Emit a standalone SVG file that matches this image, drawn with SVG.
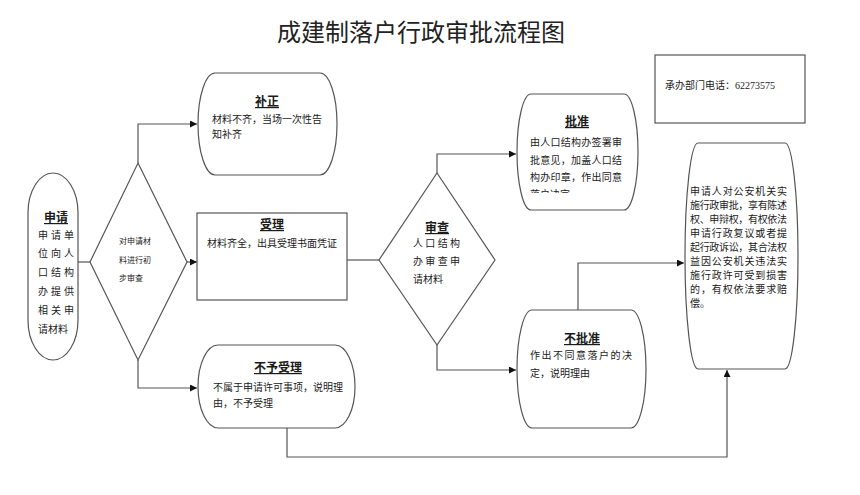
<svg xmlns="http://www.w3.org/2000/svg" width="860" height="495" viewBox="0 0 860 495">
<style>
.sh{fill:#fff;stroke:#555;stroke-width:1.2}
.cn{fill:none;stroke:#555;stroke-width:1.2}
text{font-family:"Noto Sans CJK SC","Liberation Sans",sans-serif;fill:#1a1a1a}
.t{font-size:10px}
.s{font-size:8px}
.h{font-size:12px;font-weight:bold;text-anchor:middle;text-decoration:underline}
.title{font-size:24px;text-anchor:middle;fill:#222}
</style>
<defs>
<marker id="ar" viewBox="0 0 8 8" refX="8" refY="4" markerWidth="7" markerHeight="7" markerUnits="userSpaceOnUse" orient="auto">
<path d="M0,0 L8,4 L0,8 Z" fill="#111"/>
</marker>
<clipPath id="clipPz"><rect x="520" y="100" width="120" height="93"/></clipPath>
</defs>
<rect width="860" height="495" fill="#fff"/>
<text class="title" x="421" y="41">成建制落户行政审批流程图</text>

<g id="connectors">
<path class="cn" d="M78,262 H90"/>
<path class="cn" d="M138,163 V124 H197" marker-end="url(#ar)"/>
<path class="cn" d="M187,262 H197" marker-end="url(#ar)"/>
<path class="cn" d="M138,360 V388 H197" marker-end="url(#ar)"/>
<path class="cn" d="M347,260 H379"/>
<path class="cn" d="M437,173 V154 H516" marker-end="url(#ar)"/>
<path class="cn" d="M437,345 V370 H516" marker-end="url(#ar)"/>
<path class="cn" d="M578,310 V263 H684" marker-end="url(#ar)"/>
<path class="cn" d="M287,428 V457 H727 V370" marker-end="url(#ar)"/>
</g>

<g id="apply">
<rect class="sh" x="28" y="173" width="50" height="187" rx="25" ry="40"/>
<text class="h" x="56" y="222">申请</text>
<text class="t" x="38" y="239" textLength="36" lengthAdjust="spacing">申请单</text>
<text class="t" x="38" y="257" textLength="36" lengthAdjust="spacing">位向人</text>
<text class="t" x="38" y="276" textLength="36" lengthAdjust="spacing">口结构</text>
<text class="t" x="38" y="295" textLength="36" lengthAdjust="spacing">办提供</text>
<text class="t" x="38" y="314" textLength="36" lengthAdjust="spacing">相关申</text>
<text class="t" x="38" y="333">请材料</text>
</g>

<g id="check1">
<path class="sh" d="M138,163 L187,262 L138,360 L90,262 Z"/>
<text class="s" x="119" y="244">对申请材</text>
<text class="s" x="119" y="263">料进行初</text>
<text class="s" x="119" y="281">步审查</text>
</g>

<g id="supplement">
<path class="sh" d="M215,73 H320 A17,51 0 0 1 337,124 A17,51 0 0 1 320,175 H215 A17,51 0 0 1 198,124 A17,51 0 0 1 215,73 Z"/>
<text class="h" x="267" y="106">补正</text>
<text class="t" x="212" y="123">材料不齐，当场一次性告</text>
<text class="t" x="212" y="138">知补齐</text>
</g>

<g id="accept">
<rect class="sh" x="197" y="213" width="150" height="87"/>
<text class="h" x="272" y="229">受理</text>
<text class="t" x="207" y="247">材料齐全，出具受理书面凭证</text>
</g>

<g id="reject">
<path class="sh" d="M218,345 H335 A20,41.5 0 0 1 355,386.5 A20,41.5 0 0 1 335,428 H218 A20,41.5 0 0 1 198,386.5 A20,41.5 0 0 1 218,345 Z"/>
<text class="h" x="278" y="372">不予受理</text>
<text class="t" x="213" y="391">不属于申请许可事项，说明理</text>
<text class="t" x="213" y="407">由，不予受理</text>
</g>

<g id="review">
<path class="sh" d="M437,173 L495,260 L437,345 L379,260 Z"/>
<text class="h" x="437" y="232">审查</text>
<text class="t" x="413" y="247" textLength="47" lengthAdjust="spacing">人口结构</text>
<text class="t" x="413" y="265" textLength="47" lengthAdjust="spacing">办审查申</text>
<text class="t" x="413" y="283">请材料</text>
</g>

<g id="approve">
<path class="sh" d="M531,94 H624 A14,58 0 0 1 638,152 A14,58 0 0 1 624,210 H531 A14,58 0 0 1 517,152 A14,58 0 0 1 531,94 Z"/>
<text class="h" x="577" y="126">批准</text>
<g clip-path="url(#clipPz)">
<text class="t" x="530" y="146" textLength="92" lengthAdjust="spacing">由人口结构办签署审</text>
<text class="t" x="530" y="164" textLength="92" lengthAdjust="spacing">批意见，加盖人口结</text>
<text class="t" x="530" y="181" textLength="92" lengthAdjust="spacing">构办印章，作出同意</text>
<text class="t" x="530" y="198">落户决定</text>
</g>
</g>

<g id="deny">
<path class="sh" d="M532,310 H631 A15,59 0 0 1 646,369 A15,59 0 0 1 631,428 H532 A15,59 0 0 1 517,369 A15,59 0 0 1 532,310 Z"/>
<text class="h" x="582" y="343">不批准</text>
<text class="t" x="530" y="359" textLength="102" lengthAdjust="spacing">作出不同意落户的决</text>
<text class="t" x="530" y="377">定，说明理由</text>
</g>

<g id="rights">
<path class="sh" d="M698,143 H785 A13,113 0 0 1 798,256 A13,113 0 0 1 785,369 H698 A13,113 0 0 1 685,256 A13,113 0 0 1 698,143 Z"/>
<text class="t" x="690" y="195" textLength="97" lengthAdjust="spacing">申请人对公安机关实</text>
<text class="t" x="690" y="209" textLength="97" lengthAdjust="spacing">施行政审批，享有陈述</text>
<text class="t" x="690" y="223" textLength="97" lengthAdjust="spacing">权、申辩权，有权依法</text>
<text class="t" x="690" y="237" textLength="97" lengthAdjust="spacing">申请行政复议或者提</text>
<text class="t" x="690" y="251" textLength="97" lengthAdjust="spacing">起行政诉讼，其合法权</text>
<text class="t" x="690" y="265" textLength="97" lengthAdjust="spacing">益因公安机关违法实</text>
<text class="t" x="690" y="279" textLength="97" lengthAdjust="spacing">施行政许可受到损害</text>
<text class="t" x="690" y="293" textLength="97" lengthAdjust="spacing">的，有权依法要求赔</text>
<text class="t" x="690" y="307">偿。</text>
</g>

<g id="phone">
<rect class="sh" x="655" y="55" width="150" height="68"/>
<text class="t" x="665" y="89">承办部门电话：<tspan font-family="Liberation Serif, serif">62273575</tspan></text>
</g>
</svg>
